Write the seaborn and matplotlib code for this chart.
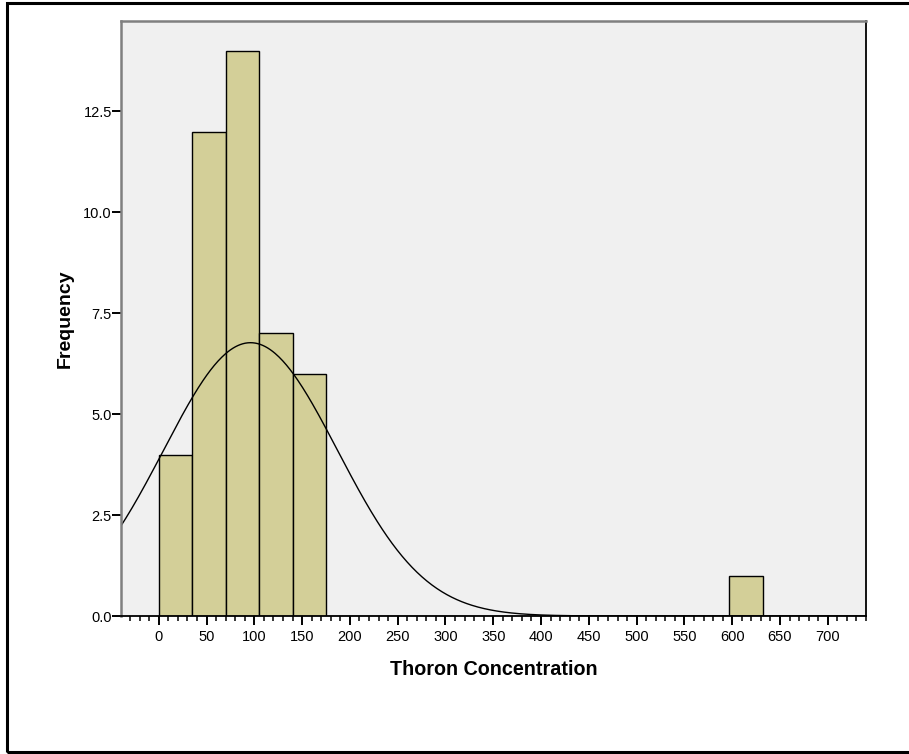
import numpy as np
import pandas as pd
import matplotlib
matplotlib.use("Agg")
import matplotlib.pyplot as plt
from matplotlib.patches import Rectangle
from matplotlib.ticker import MultipleLocator
import seaborn as sns

# Data
bin_width = 35.1
bin_starts = [0, 35.1, 70.2, 105.3, 140.4, 596.7]
counts = [4, 12, 14, 7, 6, 1]
fit_mean = 96.0
fit_sd = 91.0
x_label = "Thoron Concentration"
y_label = "Frequency"
y_ticks = [0.0, 2.5, 5.0, 7.5, 10.0, 12.5]
x_ticks = [0, 50, 100, 150, 200, 250, 300, 350, 400, 450, 500, 550, 600, 650, 700]

sns.set_style("white")
plt.rcParams['font.family'] = ['Liberation Sans', 'DejaVu Sans']
plt.rcParams['text.color'] = 'black'
plt.rcParams['axes.labelcolor'] = 'black'
plt.rcParams['xtick.color'] = 'black'
plt.rcParams['ytick.color'] = 'black'

fig = plt.figure(figsize=(9.09, 7.54), dpi=100)
ax = fig.add_axes([121/909, 1-616/754, (866-121)/909, (616-21)/754])
ax.set_facecolor('#f0f0f0')

df = pd.DataFrame({"start": bin_starts, "count": counts})
df["center"] = df["start"] + bin_width / 2
sns.histplot(data=df, x="center", weights="count", binwidth=bin_width, binrange=(0, 18 * bin_width),
             ax=ax, color='#d3cf98', alpha=1, edgecolor='black', linewidth=1.0)

xmin, xmax = -39.5, 740
xs = np.linspace(xmin, xmax, 600)
n = sum(counts)
ys = n * bin_width / (fit_sd * np.sqrt(2 * np.pi)) * np.exp(-(xs - fit_mean) ** 2 / (2 * fit_sd ** 2))
sns.lineplot(x=xs, y=ys, ax=ax, color='black', linewidth=1.0)

ax.set_xlim(xmin, xmax)
ax.set_ylim(0, 14.74)
ax.set_xticks(x_ticks)
ax.set_xticklabels([str(t) for t in x_ticks])
ax.xaxis.set_minor_locator(MultipleLocator(10))
ax.set_yticks(y_ticks)
ax.set_yticklabels([f"{t:.1f}" for t in y_ticks])

ax.tick_params(axis='x', which='major', direction='out', length=6.5, width=1.4, color='black',
               labelsize=10.5, labelcolor='black', pad=3.5, bottom=True)
ax.tick_params(axis='x', which='minor', direction='out', length=3.6, width=1.1, color='black', bottom=True)
ax.tick_params(axis='y', which='major', direction='out', length=6.5, width=1.4, color='black',
               labelsize=10.5, labelcolor='black', pad=0, left=True)

ax.set_xlabel(x_label, fontsize=14.2, fontweight='bold', labelpad=11.5, color='black')
ax.set_ylabel(y_label, fontsize=14, fontweight='bold', labelpad=7, color='black')

for side in ['top', 'left']:
    ax.spines[side].set_color('#808080')
    ax.spines[side].set_linewidth(1.8)
for side in ['right', 'bottom']:
    ax.spines[side].set_color('black')
    ax.spines[side].set_linewidth(1.3)

# outer frame
fig.patches.append(Rectangle((7/909, 2/754), 1.0, 749/754, transform=fig.transFigure,
                             fill=False, edgecolor='black', linewidth=2.2))

fig.savefig("out.png", dpi=100)
